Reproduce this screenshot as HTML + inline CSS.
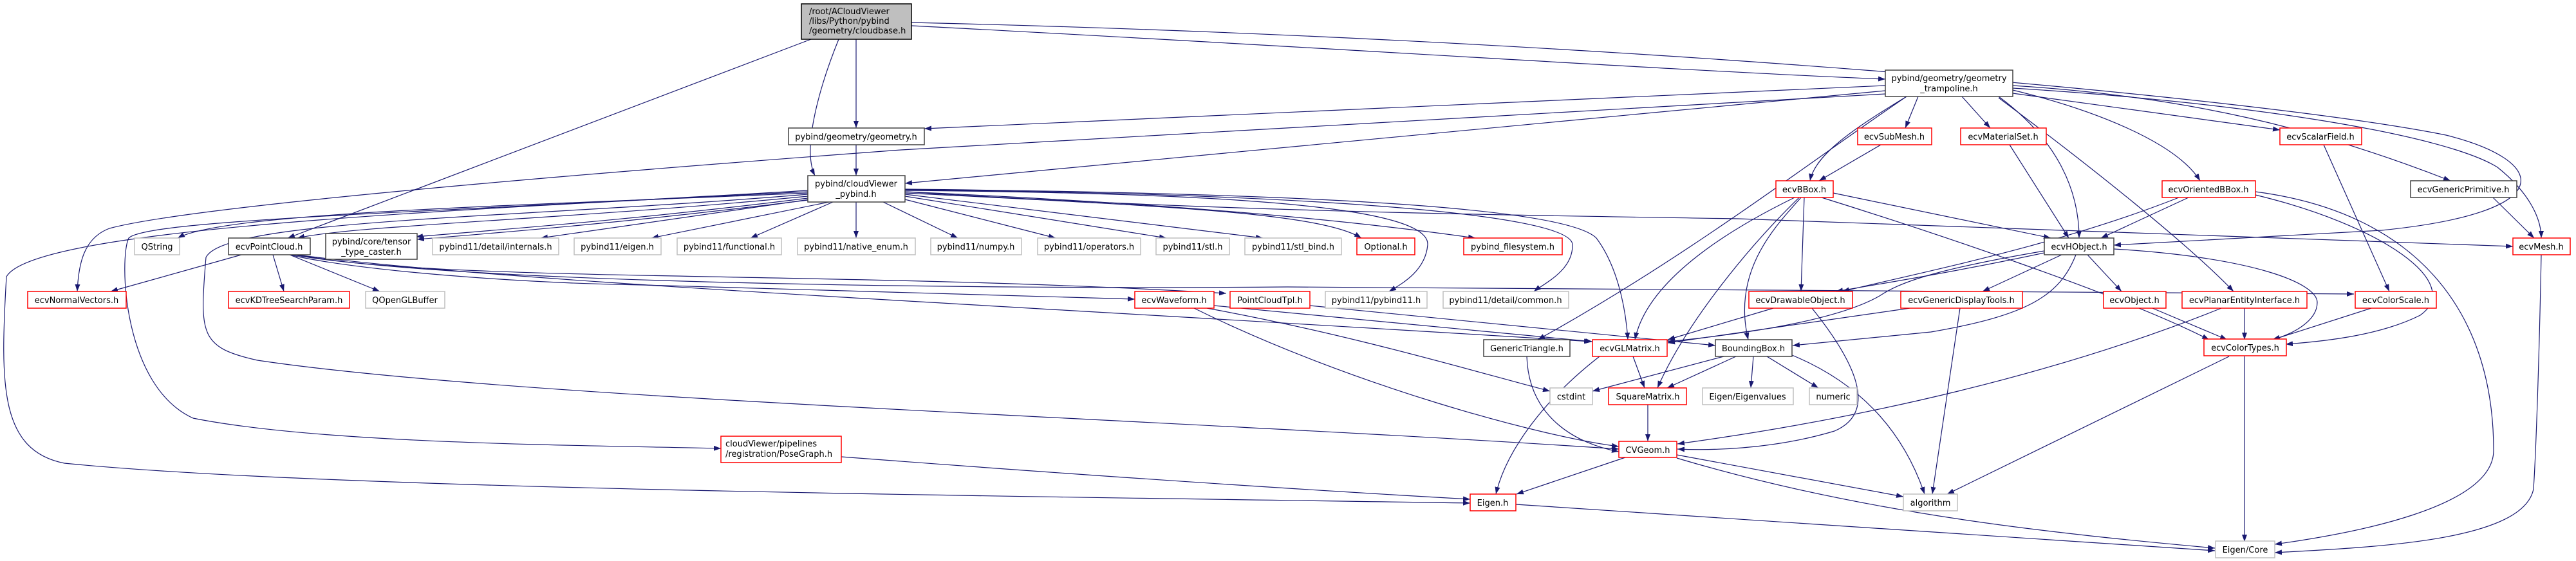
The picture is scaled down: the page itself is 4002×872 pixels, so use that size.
<!DOCTYPE html>
<html><head><meta charset="utf-8"><style>
html,body{margin:0;padding:0;background:#fff;}
svg{display:block;}
text{font-family:"DejaVu Sans","Liberation Sans",sans-serif;font-size:13px;fill:#000;}
</style></head><body>
<svg width="4002" height="872" viewBox="0 0 4002 872" xmlns="http://www.w3.org/2000/svg">
<defs>
<marker id="a" markerWidth="11" markerHeight="8" refX="11" refY="4" orient="auto" markerUnits="userSpaceOnUse"><path d="M0,0 L11,4 L0,8 z" fill="#191970"/></marker>
</defs>
<g fill="none" stroke="#191970" stroke-width="1.2" marker-end="url(#a)">
<path d="M1330,61 L1330,199"/>
<path d="M1303,61 C1275,130 1245,230 1266,273"/>
<path d="M1260,61 L447,370"/>
<path d="M1416,40 C2000,70 2600,110 2929,123"/>
<path d="M1416,35 C2500,60 3500,150 3800,210 C3960,250 3980,330 3700,358 L3284,381"/>
<path d="M1330,225 L1330,273"/>
<path d="M2929,133 L1436,200"/>
<path d="M2929,141 L1406,285"/>
<path d="M2929,146 L1400,233 C900,270 300,320 170,355 C130,370 122,410 120,453"/>
<path d="M2962,150 C2800,260 2620,400 2389,528"/>
<path d="M2962,150 C2880,200 2820,240 2812,281"/>
<path d="M2980,150 L2960,199"/>
<path d="M3048,150 L3092,199"/>
<path d="M3105,150 C3200,220 3230,300 3230,370"/>
<path d="M3105,152 C3250,260 3400,380 3470,453"/>
<path d="M3127,140 C3250,170 3380,220 3418,281"/>
<path d="M3127,145 L3542,202"/>
<path d="M3127,133 C3400,150 3600,200 3807,281"/>
<path d="M3127,137 C3500,160 3800,210 3880,260 C3930,300 3948,340 3948,370"/>
<path d="M1255,300 C800,320 350,330 276,370"/>
<path d="M1255,305 C900,340 550,350 462,370"/>
<path d="M1255,308 C1000,340 800,355 646,368"/>
<path d="M1255,311 C1000,343 800,360 648,372"/>
<path d="M1258,310 L840,370"/>
<path d="M1288,314 L1012,370"/>
<path d="M1294,314 L1166,370"/>
<path d="M1330,314 L1330,370"/>
<path d="M1372,314 L1488,370"/>
<path d="M1406,310 L1640,370"/>
<path d="M1406,305 L1812,370"/>
<path d="M1406,302 L1962,370"/>
<path d="M1406,300 C1800,320 2050,330 2115,370"/>
<path d="M1406,298 C1900,320 2150,350 2292,370"/>
<path d="M1406,296 C1900,300 2220,320 2218,380 C2215,420 2180,440 2158,453"/>
<path d="M1406,295 C2000,300 2440,330 2443,380 C2444,420 2400,440 2383,453"/>
<path d="M1406,294 C2000,300 2430,320 2480,370 C2510,410 2525,470 2529,528"/>
<path d="M1406,298 C1900,330 2400,335 2700,340 L3904,383"/>
<path d="M1255,296 C700,330 230,340 200,370 C185,400 190,600 300,650 C500,690 900,692 1120,697"/>
<path d="M1255,298 C600,330 50,360 10,430 C0,600 0,700 100,720 C500,760 1500,770 2284,782"/>
<path d="M1255,302 C800,340 350,340 320,400 C310,520 310,540 400,560 C800,620 1800,650 2515,698"/>
<path d="M375,396 L172,453"/>
<path d="M424,396 L441,453"/>
<path d="M450,396 L590,453"/>
<path d="M450,396 C550,420 800,440 1000,443 L1763,465"/>
<path d="M455,396 C700,440 1300,420 1905,456"/>
<path d="M460,396 C700,440 1500,450 2000,446 L3657,457"/>
<path d="M460,396 C800,440 1500,470 2472,531"/>
<path d="M2848,300 L3186,370"/>
<path d="M2803,307 L2798,453"/>
<path d="M2788,307 C2700,350 2560,430 2540,528"/>
<path d="M2795,307 C2720,380 2620,500 2575,603"/>
<path d="M2798,307 C2760,350 2690,420 2716,528"/>
<path d="M2830,307 C3000,360 3300,460 3432,528"/>
<path d="M3400,307 L3264,370"/>
<path d="M3385,307 C3200,380 3000,420 2862,453"/>
<path d="M3504,303 C3700,350 3830,440 3760,490 C3700,520 3620,530 3551,535"/>
<path d="M3504,298 C3750,330 3874,480 3874,700 C3874,790 3650,830 3534,846"/>
<path d="M3873,307 L3937,370"/>
<path d="M3610,225 L3712,453"/>
<path d="M3122,225 L3214,370"/>
<path d="M2922,225 L2826,281"/>
<path d="M3948,396 C3945,550 3940,700 3936,760 C3920,840 3700,850 3534,859"/>
<path d="M3176,393 C3050,420 2930,440 2852,453"/>
<path d="M3176,390 C3000,420 2950,440 2920,460 C2850,500 2700,520 2591,531"/>
<path d="M3203,396 L3080,453"/>
<path d="M3243,396 L3296,453"/>
<path d="M3225,396 C3200,460 3150,490 3000,516 L2785,537"/>
<path d="M3284,387 C3500,400 3600,440 3600,470 C3600,500 3560,520 3530,528"/>
<path d="M2755,479 L2591,528"/>
<path d="M2815,479 C2880,560 2920,640 2850,670 C2750,700 2650,700 2606,698"/>
<path d="M2967,479 L2591,533"/>
<path d="M3045,479 L3002,768"/>
<path d="M3344,479 L3460,528"/>
<path d="M3487,479 L3487,528"/>
<path d="M3451,479 C3200,580 2900,650 2606,690"/>
<path d="M3684,479 L3531,528"/>
<path d="M1875,479 C2100,520 2300,580 2408,608"/>
<path d="M1855,479 C2100,600 2400,680 2515,694"/>
<path d="M1886,475 L2474,531"/>
<path d="M2035,475 L2665,537"/>
<path d="M3463,554 L3025,768"/>
<path d="M3487,554 L3487,842"/>
<path d="M2372,554 C2375,650 2450,690 2515,702"/>
<path d="M2537,554 L2555,603"/>
<path d="M2485,554 C2400,620 2340,700 2324,768"/>
<path d="M2678,554 L2474,608"/>
<path d="M2697,554 L2590,603"/>
<path d="M2724,554 L2720,603"/>
<path d="M2745,554 L2825,603"/>
<path d="M2784,552 C2900,600 2960,680 2990,768"/>
<path d="M2560,629 L2560,686"/>
<path d="M2525,711 L2356,768"/>
<path d="M2605,707 L2957,772"/>
<path d="M2605,712 C2900,800 3200,830 3441,852"/>
<path d="M1307,710 C1700,740 2000,760 2284,776"/>
<path d="M2355,784 L3441,856"/>
</g>
<g stroke-width="1.5">
<rect x="1245" y="6" width="171" height="55" fill="#bfbfbf" stroke="#000"/>
<g fill="#fff" stroke="#404040">
<rect x="1225" y="199" width="211" height="26"/>
<rect x="1255" y="273" width="151" height="41"/>
<rect x="2929" y="109" width="198" height="41"/>
<rect x="355" y="370" width="127" height="26"/>
<rect x="506" y="363" width="142" height="40"/>
<rect x="3176" y="370" width="108" height="26"/>
<rect x="3745" y="281" width="165" height="26"/>
<rect x="2305" y="528" width="134" height="26"/>
<rect x="2665" y="528" width="119" height="26"/>
</g>
<g fill="#fff" stroke="#ff0000">
<rect x="2886" y="199" width="115" height="26"/>
<rect x="3046" y="199" width="133" height="26"/>
<rect x="3542" y="199" width="127" height="26"/>
<rect x="2759" y="281" width="89" height="26"/>
<rect x="3359" y="281" width="145" height="26"/>
<rect x="2108" y="370" width="90" height="26"/>
<rect x="2274" y="370" width="153" height="26"/>
<rect x="3904" y="370" width="89" height="26"/>
<rect x="43" y="453" width="153" height="26"/>
<rect x="355" y="453" width="188" height="26"/>
<rect x="1763" y="453" width="123" height="26"/>
<rect x="1911" y="453" width="124" height="26"/>
<rect x="2717" y="453" width="161" height="26"/>
<rect x="2953" y="453" width="189" height="26"/>
<rect x="3268" y="453" width="97" height="26"/>
<rect x="3390" y="453" width="194" height="26"/>
<rect x="3659" y="453" width="126" height="26"/>
<rect x="2474" y="528" width="116" height="26"/>
<rect x="3424" y="527" width="128" height="26"/>
<rect x="2499" y="603" width="121" height="26"/>
<rect x="1120" y="678" width="187" height="41"/>
<rect x="2515" y="686" width="90" height="25"/>
<rect x="2284" y="768" width="71" height="26"/>
</g>
<g fill="#fff" stroke="#bfbfbf">
<rect x="209" y="370" width="70" height="26"/>
<rect x="672" y="370" width="196" height="26"/>
<rect x="892" y="370" width="135" height="26"/>
<rect x="1052" y="370" width="162" height="26"/>
<rect x="1239" y="370" width="183" height="26"/>
<rect x="1446" y="370" width="141" height="26"/>
<rect x="1612" y="370" width="160" height="26"/>
<rect x="1796" y="370" width="114" height="26"/>
<rect x="1934" y="370" width="150" height="26"/>
<rect x="568" y="453" width="123" height="26"/>
<rect x="2059" y="453" width="158" height="26"/>
<rect x="2242" y="453" width="195" height="26"/>
<rect x="2408" y="603" width="66" height="26"/>
<rect x="2645" y="603" width="141" height="26"/>
<rect x="2811" y="603" width="74" height="26"/>
<rect x="2957" y="768" width="84" height="26"/>
<rect x="3442" y="841" width="92" height="26"/>
</g>
</g>
<g>
<text x="1257" y="22">/root/ACloudViewer</text>
<text x="1257" y="37">/libs/Python/pybind</text>
<text x="1257" y="52">/geometry/cloudbase.h</text>
<text x="1127" y="694">cloudViewer/pipelines</text>
<text x="1127" y="710">/registration/PoseGraph.h</text>
</g>
<g text-anchor="middle">
<text x="1330" y="217">pybind/geometry/geometry.h</text>
<text x="1330" y="290">pybind/cloudViewer</text>
<text x="1330" y="306">_pybind.h</text>
<text x="3028" y="126">pybind/geometry/geometry</text>
<text x="3028" y="142">_trampoline.h</text>
<text x="2943" y="217">ecvSubMesh.h</text>
<text x="3112" y="217">ecvMaterialSet.h</text>
<text x="3605" y="217">ecvScalarField.h</text>
<text x="2803" y="299">ecvBBox.h</text>
<text x="3431" y="299">ecvOrientedBBox.h</text>
<text x="3827" y="299">ecvGenericPrimitive.h</text>
<text x="244" y="388">QString</text>
<text x="418" y="388">ecvPointCloud.h</text>
<text x="577" y="380">pybind/core/tensor</text>
<text x="577" y="396">_type_caster.h</text>
<text x="770" y="388">pybind11/detail/internals.h</text>
<text x="959" y="388">pybind11/eigen.h</text>
<text x="1133" y="388">pybind11/functional.h</text>
<text x="1330" y="388">pybind11/native_enum.h</text>
<text x="1516" y="388">pybind11/numpy.h</text>
<text x="1692" y="388">pybind11/operators.h</text>
<text x="1853" y="388">pybind11/stl.h</text>
<text x="2009" y="388">pybind11/stl_bind.h</text>
<text x="2153" y="388">Optional.h</text>
<text x="2350" y="388">pybind_filesystem.h</text>
<text x="3230" y="388">ecvHObject.h</text>
<text x="3948" y="388">ecvMesh.h</text>
<text x="119" y="471">ecvNormalVectors.h</text>
<text x="449" y="471">ecvKDTreeSearchParam.h</text>
<text x="629" y="471">QOpenGLBuffer</text>
<text x="1824" y="471">ecvWaveform.h</text>
<text x="1973" y="471">PointCloudTpl.h</text>
<text x="2138" y="471">pybind11/pybind11.h</text>
<text x="2339" y="471">pybind11/detail/common.h</text>
<text x="2797" y="471">ecvDrawableObject.h</text>
<text x="3047" y="471">ecvGenericDisplayTools.h</text>
<text x="3316" y="471">ecvObject.h</text>
<text x="3487" y="471">ecvPlanarEntityInterface.h</text>
<text x="3722" y="471">ecvColorScale.h</text>
<text x="2372" y="546">GenericTriangle.h</text>
<text x="2532" y="546">ecvGLMatrix.h</text>
<text x="2724" y="546">BoundingBox.h</text>
<text x="3488" y="545">ecvColorTypes.h</text>
<text x="2441" y="621">cstdint</text>
<text x="2560" y="621">SquareMatrix.h</text>
<text x="2715" y="621">Eigen/Eigenvalues</text>
<text x="2848" y="621">numeric</text>
<text x="2560" y="704">CVGeom.h</text>
<text x="2319" y="786">Eigen.h</text>
<text x="2999" y="786">algorithm</text>
<text x="3488" y="859">Eigen/Core</text>
</g>
</svg>
</body></html>
